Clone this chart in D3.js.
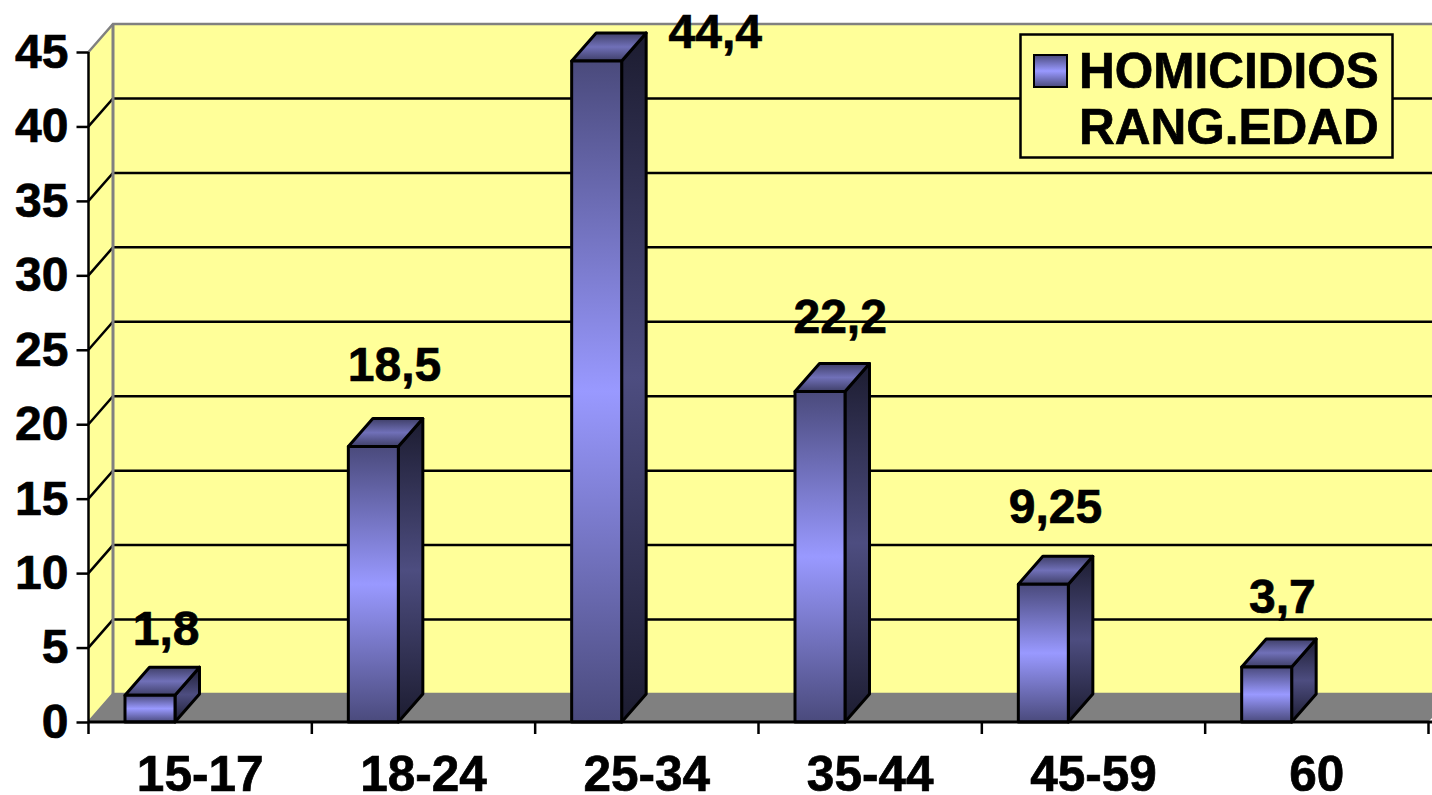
<!DOCTYPE html>
<html><head><meta charset="utf-8">
<script src="https://cdn.jsdelivr.net/npm/d3@7"></script>
<style>html,body{margin:0;padding:0;background:#fff;overflow:hidden}svg{display:block}
text{font-family:"Liberation Sans",Arial,sans-serif;font-weight:700;fill:#000;stroke:#000;stroke-width:.7px}</style></head>
<body><svg id="c" width="1432" height="795"></svg>
<script>
const categories = ["15-17","18-24","25-34","35-44","45-59","60"];
const values = [1.8,18.5,44.4,22.2,9.25,3.7];
const yTicks = [0,5,10,15,20,25,30,35,40,45];
const legendLines = ["HOMICIDIOS","RANG.EDAD"];
const labelLift = [50,66,13,58,61,54];
const labelShift = [-34,-29,68.5,-30,-38,-34.5];

const W=1432,H=795, depthX=24.5, depthY=28, barW=50, barInset=36.5, FS=48, FSX=49.5;
const svg=d3.select("#c");
const x=d3.scaleBand().domain(categories).range([88.5,1428.5]);
const y=d3.scaleLinear().domain([0,45]).range([722,52]);
const defs=svg.append("defs");
function grad(id,stops){
  const g=defs.append("linearGradient").attr("id",id).attr("x1",0).attr("y1",0).attr("x2",0).attr("y2",1);
  stops.forEach(([o,c])=>g.append("stop").attr("offset",o).attr("stop-color",c));
}
grad("front",[[0,"#4a4a7c"],[.5,"#9999ff"],[1,"#4a4a7c"]]);
grad("side",[[0,"#1c1c30"],[.5,"#4d4d80"],[1,"#1c1c30"]]);
grad("top",[[0,"#3f3f68"],[.5,"#7070b8"],[1,"#3f3f68"]]);
defs.append("clipPath").attr("id","clip").append("rect").attr("x",0).attr("y",13).attr("width",W).attr("height",H-13);

const poly=(pts,fill)=>svg.append("polygon").attr("points",pts.map(p=>p.join(",")).join(" ")).attr("fill",fill);
const x0=x.range()[0], right=W+5, y0=y(0), yT=y(45);
// walls
poly([[x0+depthX,yT-depthY],[right,yT-depthY],[right,y0-depthY],[x0+depthX,y0-depthY]],"#ffff99");
poly([[x0,yT],[x0+depthX,yT-depthY],[x0+depthX,y0-depthY],[x0,y0]],"#ffff99");
// floor
poly([[x0,y0],[x0+depthX,y0-depthY],[right,y0-depthY],[1432,y0-4],[1428,y0]],"#808080");
// gridlines
yTicks.forEach(t=>{
  const edge=t===0||t===45, c=edge?"#808080":"#000";
  const yy=y(t);
  svg.append("path").attr("d",`M${x0},${yy}L${x0+depthX},${yy-depthY}L${right},${yy-depthY}`)
    .attr("fill","none").attr("stroke",c).attr("stroke-width",2.5);
});
svg.append("line").attr("x1",x0+depthX).attr("x2",x0+depthX).attr("y1",yT-depthY).attr("y2",y0-depthY)
  .attr("stroke","#808080").attr("stroke-width",3);
// bars
const bars=svg.append("g");
values.forEach((v,i)=>{
  const l=x(categories[i])+barInset, r=l+barW, t=y(v), b=y0;
  const g=bars.append("g");
  const P=(pts,f)=>g.append("polygon").attr("points",pts.map(p=>p.join(",")).join(" "))
    .attr("fill",f).attr("stroke","#000").attr("stroke-width",3).attr("stroke-linejoin","round");
  P([[r,t],[r+depthX,t-depthY],[r+depthX,b-depthY],[r,b]],"url(#side)");
  P([[l,t],[l+depthX,t-depthY],[r+depthX,t-depthY],[r,t]],"url(#top)");
  P([[l,t],[r,t],[r,b],[l,b]],"url(#front)");
});
// axes
const ax=svg.append("g").attr("transform",`translate(${x0},0)`)
  .call(d3.axisLeft(y).tickValues(yTicks).tickSize(12).tickPadding(8).tickFormat(d3.format("d")));
ax.select(".domain").attr("stroke","#000").attr("stroke-width",2.5).attr("d",`M0,${yT}V${y0}`);
ax.selectAll(".tick line").attr("stroke","#000").attr("stroke-width",2.5);
ax.selectAll(".tick text").style("font-size",FS+"px").attr("font-family",null);
const bx=svg.append("g").attr("transform",`translate(0,${y0})`)
  .call(d3.axisBottom(x).tickSize(0).tickPadding(34));
bx.select(".domain").remove();
bx.selectAll(".tick text").style("font-size",FSX+"px").attr("font-family",null);
svg.append("line").attr("x1",x0).attr("x2",right).attr("y1",y0).attr("y2",y0).attr("stroke","#000").attr("stroke-width",3);
const edges=categories.map(c=>x(c)).concat(x.range()[1]);
svg.selectAll(".xt").data(edges).join("line").attr("x1",d=>d).attr("x2",d=>d).attr("y1",y0).attr("y2",y0+12)
  .attr("stroke","#000").attr("stroke-width",2.5);
// data labels
svg.append("g").attr("clip-path","url(#clip)").selectAll("text").data(values).join("text")
  .attr("x",(d,i)=>x(categories[i])+x.bandwidth()/2+labelShift[i])
  .attr("y",(d,i)=>y(d)-labelLift[i]).attr("text-anchor","middle").style("font-size",FS+"px")
  .text(d=>String(d).replace(".",","));
// legend
const lg=svg.append("g");
lg.append("rect").attr("x",1020.5).attr("y",34.5).attr("width",372).attr("height",123).attr("fill","#ffff99").attr("stroke","#000").attr("stroke-width",2.5);
lg.append("rect").attr("x",1034).attr("y",55).attr("width",33).attr("height",32).attr("fill","url(#front)").attr("stroke","#000").attr("stroke-width",2);
lg.selectAll("text").data(legendLines).join("text").attr("x",1079).attr("y",(d,i)=>88+i*56).style("font-size",FSX+"px").text(d=>d);
</script></body></html>
